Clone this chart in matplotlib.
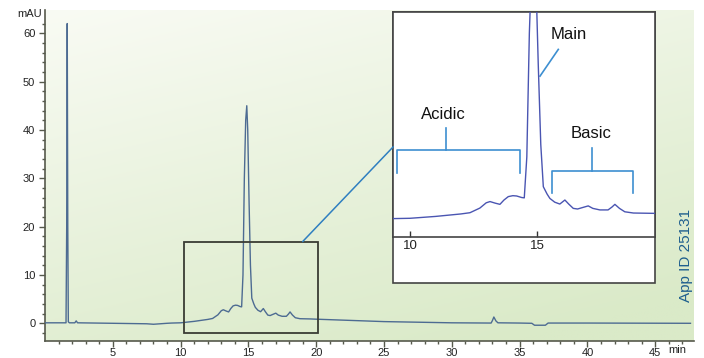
import numpy as np
import matplotlib
matplotlib.use("Agg")
import matplotlib.pyplot as plt
from matplotlib.patches import Rectangle, ConnectionPatch
from matplotlib import font_manager as fm

# ---------------- data ----------------
time_min = [0.0, 1.55, 1.60, 1.64, 1.68, 1.72, 1.80, 2.20, 2.30, 2.40, 5.0, 7.5, 8.0, 9.0,
            9.34, 10.0, 11.0, 12.0, 12.36, 12.75, 13.0, 13.15, 13.35, 13.54, 13.7, 13.87,
            14.05, 14.2, 14.4, 14.5, 14.6, 14.7, 14.8, 14.88, 14.95, 15.05, 15.15, 15.25,
            15.4, 15.51, 15.7, 15.9, 16.1, 16.25, 16.43, 16.6, 16.85, 17.02, 17.2, 17.48,
            17.8, 17.95, 18.07, 18.25, 18.46, 18.8, 19.58, 20.0, 25.0, 30.0, 32.9, 33.0,
            33.1, 33.25, 33.4, 35.0, 35.9, 36.1, 36.9, 37.1, 40.0, 47.6]
absorbance = [0.1, 0.1, 20.0, 62.0, 20.0, 0.3, 0.1, 0.1, 0.5, 0.1, 0.0, -0.1, -0.2, 0.0,
              0.05, 0.1, 0.4, 0.8, 1.0, 1.75, 2.6, 2.8, 2.55, 2.35, 3.05, 3.6,
              3.75, 3.7, 3.45, 3.4, 10.0, 30.0, 42.0, 45.0, 40.0, 25.0, 12.0, 5.2,
              4.0, 3.3, 2.7, 2.4, 3.05, 2.4, 1.7, 1.6, 1.9, 2.1, 1.7, 1.45,
              1.45, 1.9, 2.35, 1.7, 1.15, 0.95, 0.9, 0.85, 0.35, 0.1, 0.05, 0.6,
              1.3, 0.5, 0.1, 0.05, 0.0, -0.4, -0.4, 0.05, 0.05, 0.0]

y_ticks = [0, 10, 20, 30, 40, 50, 60]
x_ticks = [5, 10, 15, 20, 25, 30, 35, 40, 45]
inset_ticks = [10, 15]
zoom_range = (10.25, 20.1, -2.0, 16.9)   # xmin, xmax, ymin, ymax of zoom box
acidic_range = (9.50, 14.33)
basic_range = (15.58, 18.77)

# ---------------- fonts ----------------
avail = {f.name for f in fm.fontManager.ttflist}
base_font = "Liberation Sans" if "Liberation Sans" in avail else "DejaVu Sans"
narrow_font = "Liberation Sans Narrow" if "Liberation Sans Narrow" in avail else base_font
plt.rcParams["font.family"] = [base_font, "DejaVu Sans"]

W, H = 704, 358
fig = plt.figure(figsize=(W / 100, H / 100), dpi=100)
fig.patch.set_facecolor("white")

def fx(px):
    return px / W

def fy(py):
    return 1 - py / H

# main axes
ax = fig.add_axes([fx(45), fy(340.7), fx(694) - fx(45), fy(10) - fy(340.7)])
ax.set_facecolor("none")
# gradient background
gx = np.linspace(0, 1, 200)
gy = np.linspace(0, 1, 200)
GX, GY = np.meshgrid(gx, gy)
t = np.clip(0.75 * (1 - GY) + 0.35 * GX, 0, 1)
top = np.array([249, 251, 244]) / 255
bot = np.array([218, 234, 200]) / 255
img = top[None, None, :] * (1 - t[..., None]) + bot[None, None, :] * t[..., None]
img = img[::-1]
ax.imshow(img, extent=[0, 1, 0, 1], transform=ax.transAxes, aspect="auto",
          zorder=0, origin="upper")

line_col = "#4d6b92"
ax.plot(time_min, absorbance, color=line_col, lw=1.0, zorder=3)
ax.set_xlim(0, 47.86)
ax.set_ylim(-3.6, 64.8)

spine_col = "#56594c"
for s in ["top", "right"]:
    ax.spines[s].set_visible(False)
for s in ["left", "bottom"]:
    ax.spines[s].set_color(spine_col)
    ax.spines[s].set_linewidth(1.2)

ax.set_yticks(y_ticks)
ax.set_yticks(np.arange(-2, 64, 2), minor=True)
ax.set_xticks(x_ticks)
ax.set_xticks(np.arange(1, 48, 1), minor=True)
ax.tick_params(axis="both", which="major", direction="out", length=4, width=1,
               color=spine_col, labelsize=8, labelcolor="#222222")
ax.tick_params(axis="both", which="minor", direction="out", length=2.5, width=1,
               color=spine_col)
ax.tick_params(axis="x", pad=1)
ax.tick_params(axis="y", pad=3)

fig.text(fx(30), fy(14), "mAU", ha="center", va="center", fontsize=8, color="#222222")
fig.text(fx(677), fy(350), "min", ha="center", va="center", fontsize=8, color="#222222")

# zoom rectangle
zx0, zx1, zy0, zy1 = zoom_range
ax.add_patch(Rectangle((zx0, zy0), zx1 - zx0, zy1 - zy0, fill=False,
                       edgecolor="#3a3c34", lw=1.3, zorder=4))

# App ID
fig.text(fx(686), fy(255), "App ID 25131", rotation=90, ha="center", va="center",
         fontsize=11, color="#1f5f8e")

# inset outer white box
fig.patches.append(Rectangle((fx(393.3), fy(283)), fx(654.5) - fx(393.3), fy(12) - fy(283),
                             transform=fig.transFigure, facecolor="white",
                             edgecolor="#444444", lw=1.2, zorder=5))

# inset axes
axi = fig.add_axes([fx(393.3), fy(237), fx(654.5) - fx(393.3), fy(12) - fy(237)])
axi.set_zorder(6)
axi.set_facecolor("white")
axi.plot(time_min, absorbance, color="#4a55b2", lw=1.0, zorder=3)
axi.set_xlim(9.34, 19.63)
axi.set_ylim(-2.92, 33.4)
axi.set_yticks([])
axi.set_xticks(inset_ticks)
axi.tick_params(axis="x", direction="in", length=4, width=1, color="#333333",
                labelsize=9.5, pad=2, labelcolor="#222222")
for s in axi.spines.values():
    s.set_color("#444444")
    s.set_linewidth(1.2)

br_col = "#3d8fd1"
# acidic bracket
a0, a1 = acidic_range
axi.plot([a0, a0, a1, a1], [7.45, 11.12, 11.12, 7.45], color=br_col, lw=1.2)
axi.plot([11.40, 11.40], [11.12, 14.66], color=br_col, lw=1.2)
axi.text(11.3, 16.8, "Acidic", ha="center", va="center", fontsize=12,
         family=[narrow_font, "DejaVu Sans"], color="#111111")
# basic bracket
b0, b1 = basic_range
axi.plot([b0, b0, b1, b1], [4.13, 7.78, 7.78, 4.13], color=br_col, lw=1.2)
axi.plot([17.16, 17.16], [7.78, 11.39], color=br_col, lw=1.2)
axi.text(17.15, 13.8, "Basic", ha="center", va="center", fontsize=12,
         family=[narrow_font, "DejaVu Sans"], color="#111111")
# main label
axi.plot([15.84, 15.12], [27.36, 23.05], color=br_col, lw=1.2)
axi.text(16.26, 29.8, "Main", ha="center", va="center", fontsize=12,
         family=[narrow_font, "DejaVu Sans"], color="#111111")

# connector
con = ConnectionPatch(xyA=(19.0, zy1), coordsA=ax.transData,
                      xyB=(9.34, 11.65), coordsB=axi.transData,
                      color="#2f7fc0", lw=1.1, zorder=7)
fig.add_artist(con)

fig.savefig("out.png", dpi=100)
